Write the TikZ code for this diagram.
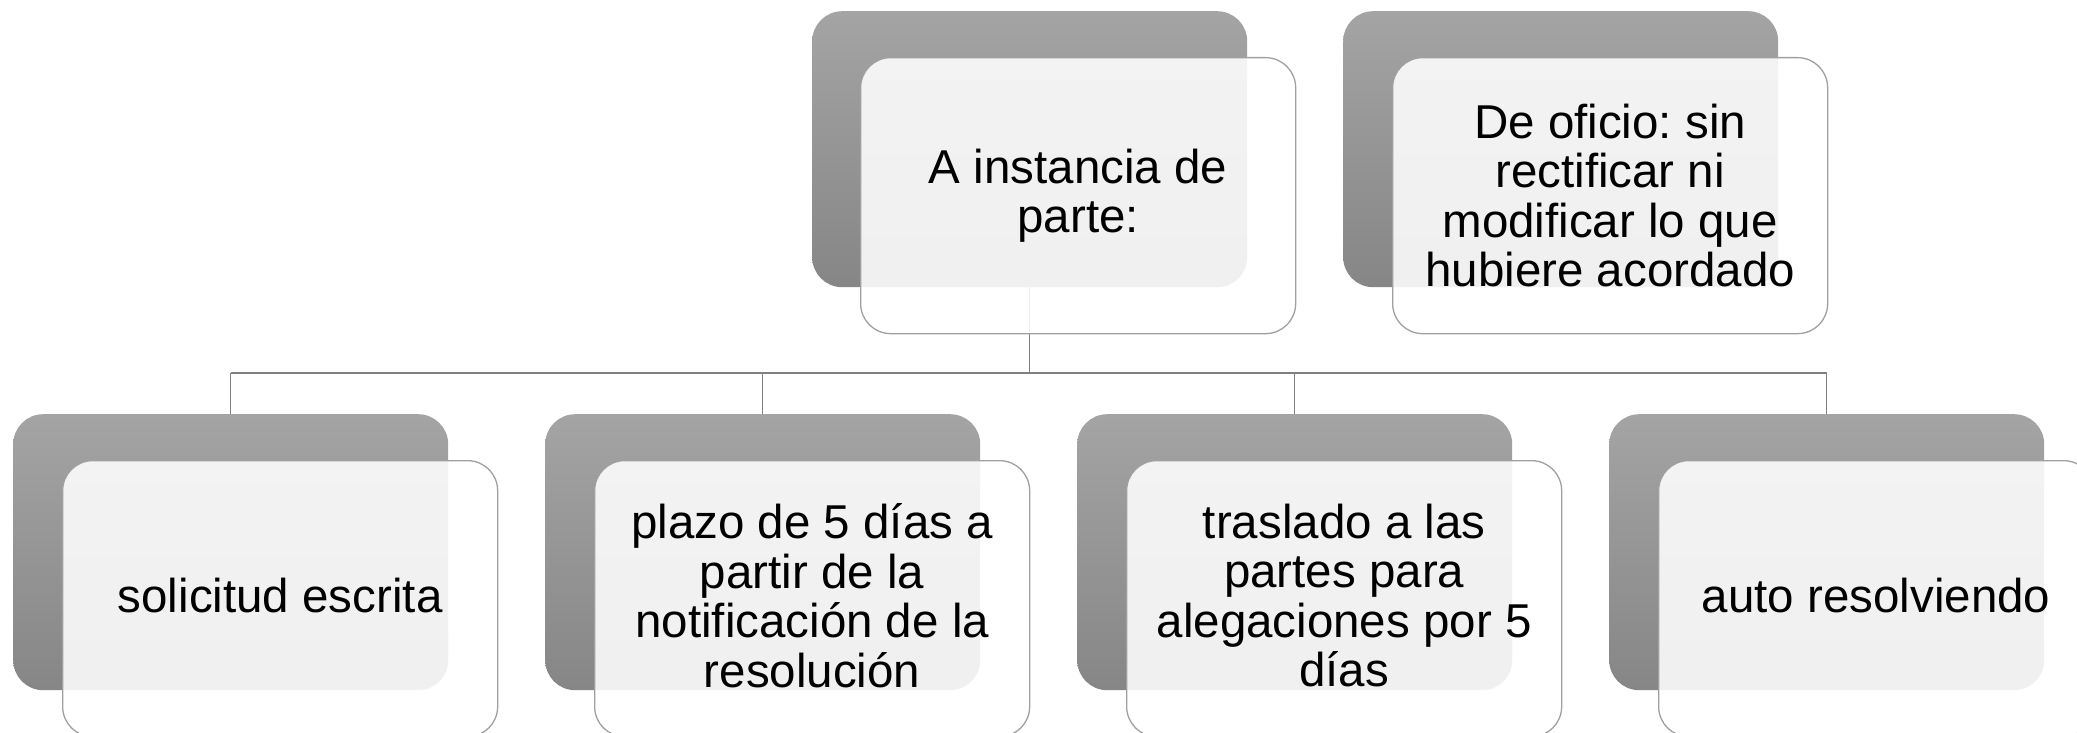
\documentclass[tikz,border=0pt]{standalone}
\usepackage{fontspec}
\setmainfont{Liberation Sans}
\frenchspacing
\definecolor{gtop}{RGB}{164,164,164}
\definecolor{gbot}{RGB}{134,134,134}
\definecolor{edgecol}{RGB}{160,160,160}
\definecolor{conncol}{RGB}{128,128,128}
\begin{document}
\begin{tikzpicture}[x=1pt,y=-1pt,
  graybox/.style={rectangle, rounded corners=30pt, minimum width=435pt, minimum height=276pt,
    anchor=north west, inner sep=0pt, top color=gtop, bottom color=gbot, draw=none},
  frontbox/.style={rectangle, rounded corners=30pt, minimum width=435pt, minimum height=276pt,
    anchor=north west, inner sep=0pt, fill=white, fill opacity=0.88, draw=edgecol, line width=1.3pt},
  boxtext/.style={align=center, font=\fontsize{47.5}{49.5}\selectfont\frenchspacing, inner sep=0pt, text=black},
  conn/.style={draw=conncol, line width=1.5pt}]
\useasboundingbox (0,0) rectangle (2077,733);
\clip (0,0) rectangle (2077,733);
% gray back boxes
\node[graybox] (ga) at (812,11) {};
\node[graybox] (gb) at (1343,11) {};
\node[graybox] (g1) at (13,414) {};
\node[graybox] (g2) at (545,414) {};
\node[graybox] (g3) at (1077,414) {};
\node[graybox] (g4) at (1609,414) {};
% connectors
\coordinate (bus) at (0,373);
\draw[conn] (ga.south) -- (ga.south |- bus);
\draw[conn] (g1.north |- bus) -- (g4.north |- bus);
\draw[conn] (g1.north |- bus) -- (g1.north);
\draw[conn] (g2.north |- bus) -- (g2.north);
\draw[conn] (g3.north |- bus) -- (g3.north);
\draw[conn] (g4.north |- bus) -- (g4.north);
% front boxes
\node[frontbox] (fa) at (860,57) {};
\node[frontbox] (fb) at (1392,57) {};
\node[frontbox] (f1) at (62,460) {};
\node[frontbox] (f2) at (594,460) {};
\node[frontbox] (f3) at (1126,460) {};
\node[frontbox] (f4) at (1658,460) {};
% texts (clipped at the bottom of the gray boxes)
\begin{scope}
\clip (fa.west |- ga.north) rectangle (fa.east |- ga.south);
\node[boxtext] (ta) at (fa.center) {A instancia de\\parte:};
\end{scope}
\begin{scope}
\clip (fb.west |- gb.north) rectangle (fb.east |- gb.south);
\node[boxtext] (tb) at (fb.center) {De oficio: sin\\rectificar ni\\modificar lo que\\hubiere acordado};
\end{scope}
\begin{scope}
\clip (f1.west |- g1.north) rectangle (f1.east |- g1.south);
\node[boxtext] (t1) at ([yshift=3pt]f1.center) {solicitud escrita};
\end{scope}
\begin{scope}
\clip (f2.west |- g2.north) rectangle (f2.east |- g2.south);
\node[boxtext] (t2) at ([yshift=3pt]f2.center) {plazo de 5 días a\\partir de la\\notificación de la\\resolución};
\end{scope}
\begin{scope}
\clip (f3.west |- g3.north) rectangle (f3.east |- g3.south);
\node[boxtext] (t3) at ([yshift=3pt]f3.center) {traslado a las\\partes para\\alegaciones por 5\\días};
\end{scope}
\begin{scope}
\clip (f4.west |- g4.north) rectangle (f4.east |- g4.south);
\node[boxtext] (t4) at ([yshift=3pt]f4.center) {auto resolviendo};
\end{scope}
\end{tikzpicture}
\end{document}
